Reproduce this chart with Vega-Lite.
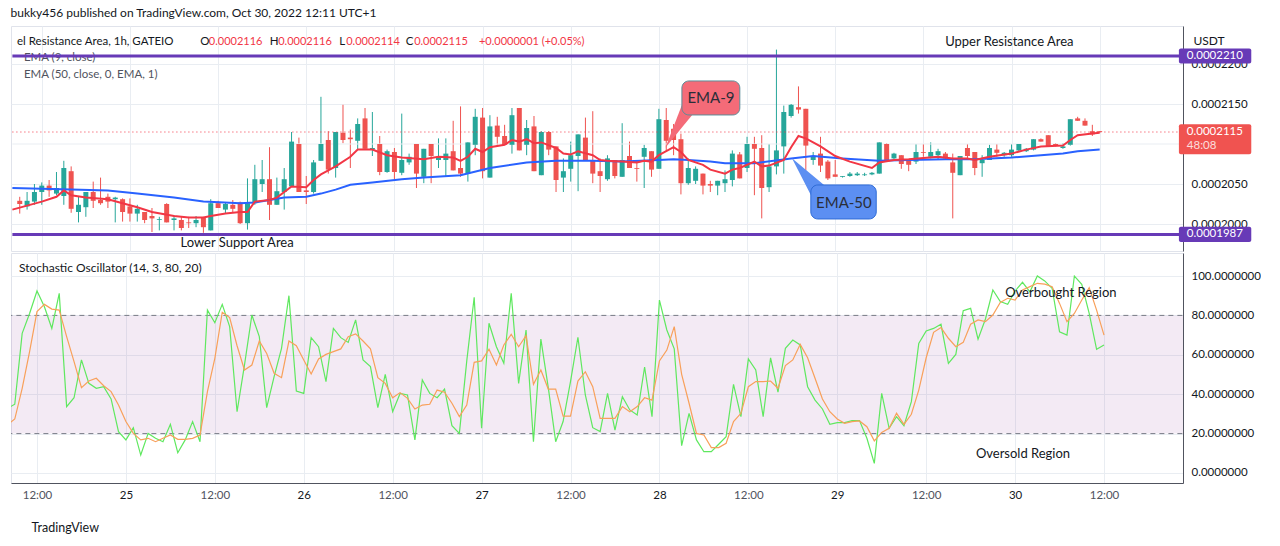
{
  "$schema": "https://vega.github.io/schema/vega-lite/v6.json",
  "background": "#ffffff",
  "padding": {"left": 10, "top": 6, "right": 0, "bottom": 0},
  "title": {"text": "bukky456 published on TradingView.com, Oct 30, 2022 12:11 UTC+1", "anchor": "start", "fontSize": 12, "fontWeight": "normal", "color": "#131722", "font": "Lato", "offset": 6},
  "config": {
    "font": "Lato",
    "view": {"stroke": "#e0e3eb"},
    "axis": {"gridColor": "#e9edf2", "ticks": false, "labelFont": "Lato", "labelFontSize": 11.5, "labelColor": "#131722", "domainColor": "#50535e"},
    "text": {"font": "Lato"}
  },
  "datasets": {
    "bars": [
      {"time":"2022-10-24 08:00","k":32.8,"d":24.4},
      {"time":"2022-10-24 09:00","open":0.0002029,"high":0.0002034,"low":0.0002013,"close":0.0002025,"k":34.9,"d":27.4},
      {"time":"2022-10-24 10:00","open":0.0002022,"high":0.0002040,"low":0.0002018,"close":0.0002029,"k":70.9,"d":43.0},
      {"time":"2022-10-24 11:00","open":0.0002028,"high":0.0002050,"low":0.0002024,"close":0.0002040,"k":81.0,"d":61.6},
      {"time":"2022-10-24 12:00","open":0.0002040,"high":0.0002052,"low":0.0002024,"close":0.0002048,"k":92.4,"d":81.9},
      {"time":"2022-10-24 13:00","open":0.0002048,"high":0.0002055,"low":0.0002034,"close":0.0002042,"k":84.4,"d":85.6},
      {"time":"2022-10-24 14:00","open":0.0002038,"high":0.0002065,"low":0.0002036,"close":0.0002045,"k":73.4,"d":83.2},
      {"time":"2022-10-24 15:00","open":0.0002035,"high":0.0002079,"low":0.0002024,"close":0.0002070,"k":91.2,"d":82.7},
      {"time":"2022-10-24 16:00","open":0.0002066,"high":0.0002072,"low":0.0002014,"close":0.0002019,"k":33.7,"d":69.2},
      {"time":"2022-10-24 17:00","open":0.0002015,"high":0.0002034,"low":0.0002002,"close":0.0002024,"k":38.2,"d":56.5},
      {"time":"2022-10-24 18:00","open":0.0002021,"high":0.0002040,"low":0.0002009,"close":0.0002040,"k":57.4,"d":43.3},
      {"time":"2022-10-24 19:00","open":0.0002040,"high":0.0002053,"low":0.0002020,"close":0.0002029,"k":45.5,"d":46.7},
      {"time":"2022-10-24 20:00","open":0.0002030,"high":0.0002058,"low":0.0002024,"close":0.0002026,"k":43.0,"d":48.1},
      {"time":"2022-10-24 21:00","open":0.0002034,"high":0.0002038,"low":0.0002020,"close":0.0002028,"k":43.8,"d":44.3},
      {"time":"2022-10-24 22:00","open":0.0002031,"high":0.0002034,"low":0.0002002,"close":0.0002033,"k":37.6,"d":41.3},
      {"time":"2022-10-24 23:00","open":0.0002031,"high":0.0002032,"low":0.0002003,"close":0.0002015,"k":21.0,"d":34.5},
      {"time":"2022-10-25 00:00","open":0.0002022,"high":0.0002032,"low":0.0002003,"close":0.0002013,"k":16.8,"d":26.1},
      {"time":"2022-10-25 01:00","open":0.0002013,"high":0.0002024,"low":0.0002003,"close":0.0002019,"k":23.0,"d":20.1},
      {"time":"2022-10-25 02:00","open":0.0002015,"high":0.0002015,"low":0.0002001,"close":0.0002005,"k":9.1,"d":16.8},
      {"time":"2022-10-25 03:00","open":0.0002010,"high":0.0002020,"low":0.0001990,"close":0.0002007,"k":20.1,"d":17.6},
      {"time":"2022-10-25 04:00","open":0.0002005,"high":0.0002009,"low":0.0001992,"close":0.0002006,"k":17.6,"d":15.9},
      {"time":"2022-10-25 05:00","open":0.0002025,"high":0.0002026,"low":0.0002002,"close":0.0002002,"k":15.9,"d":17.6},
      {"time":"2022-10-25 06:00","open":0.0002005,"high":0.0002011,"low":0.0001992,"close":0.0002007,"k":24.7,"d":19.3},
      {"time":"2022-10-25 07:00","open":0.0002005,"high":0.0002009,"low":0.0001992,"close":0.0001995,"k":10.3,"d":17.1},
      {"time":"2022-10-25 08:00","open":0.0002002,"high":0.0002009,"low":0.0001995,"close":0.0002001,"k":16.8,"d":17.1},
      {"time":"2022-10-25 09:00","open":0.0002001,"high":0.0002010,"low":0.0001996,"close":0.0002005,"k":26.1,"d":17.6},
      {"time":"2022-10-25 10:00","open":0.0002008,"high":0.0002009,"low":0.0001989,"close":0.0001996,"k":15.9,"d":19.3},
      {"time":"2022-10-25 11:00","open":0.0001992,"high":0.0002031,"low":0.0001992,"close":0.0002026,"k":82.7,"d":41.3},
      {"time":"2022-10-25 12:00","open":0.0002026,"high":0.0002029,"low":0.0002020,"close":0.0002020,"k":76.3,"d":58.2},
      {"time":"2022-10-25 13:00","open":0.0002018,"high":0.0002027,"low":0.0002013,"close":0.0002025,"k":85.6,"d":81.6},
      {"time":"2022-10-25 14:00","open":0.0002024,"high":0.0002030,"low":0.0002015,"close":0.0002019,"k":74.3,"d":78.9},
      {"time":"2022-10-25 15:00","open":0.0002027,"high":0.0002028,"low":0.0002000,"close":0.0002001,"k":31.1,"d":64.6},
      {"time":"2022-10-25 16:00","open":0.0002001,"high":0.0002057,"low":0.0001993,"close":0.0002026,"k":54.8,"d":52.3},
      {"time":"2022-10-25 17:00","open":0.0002026,"high":0.0002074,"low":0.0002024,"close":0.0002056,"k":80.2,"d":54.8},
      {"time":"2022-10-25 18:00","open":0.0002050,"high":0.0002080,"low":0.0002040,"close":0.0002056,"k":69.2,"d":67.0},
      {"time":"2022-10-25 19:00","open":0.0002056,"high":0.0002096,"low":0.0002005,"close":0.0002024,"k":33.2,"d":60.7},
      {"time":"2022-10-25 20:00","open":0.0002024,"high":0.0002058,"low":0.0002024,"close":0.0002041,"k":48.9,"d":50.6},
      {"time":"2022-10-25 21:00","open":0.0002040,"high":0.0002070,"low":0.0002018,"close":0.0002056,"k":63.3,"d":48.4},
      {"time":"2022-10-25 22:00","open":0.0002047,"high":0.0002115,"low":0.0002047,"close":0.0002103,"k":90.0,"d":67.0},
      {"time":"2022-10-25 23:00","open":0.0002100,"high":0.0002108,"low":0.0002040,"close":0.0002040,"k":41.6,"d":64.6},
      {"time":"2022-10-26 00:00","open":0.0002042,"high":0.0002060,"low":0.0002025,"close":0.0002040,"k":40.4,"d":57.4},
      {"time":"2022-10-26 01:00","open":0.0002040,"high":0.0002080,"low":0.0002038,"close":0.0002077,"k":68.7,"d":50.3},
      {"time":"2022-10-26 02:00","open":0.0002079,"high":0.0002159,"low":0.0002079,"close":0.0002100,"k":64.1,"d":57.9},
      {"time":"2022-10-26 03:00","open":0.0002105,"high":0.0002116,"low":0.0002063,"close":0.0002068,"k":46.4,"d":60.2},
      {"time":"2022-10-26 04:00","open":0.0002070,"high":0.0002115,"low":0.0002058,"close":0.0002115,"k":73.4,"d":61.6},
      {"time":"2022-10-26 05:00","open":0.0002114,"high":0.0002149,"low":0.0002101,"close":0.0002105,"k":68.7,"d":63.0},
      {"time":"2022-10-26 06:00","open":0.0002108,"high":0.0002118,"low":0.0002070,"close":0.0002106,"k":66.3,"d":69.2},
      {"time":"2022-10-26 07:00","open":0.0002104,"high":0.0002132,"low":0.0002093,"close":0.0002125,"k":77.7,"d":70.6},
      {"time":"2022-10-26 08:00","open":0.0002132,"high":0.0002145,"low":0.0002094,"close":0.0002094,"k":57.4,"d":67.0},
      {"time":"2022-10-26 09:00","open":0.0002093,"high":0.0002140,"low":0.0002085,"close":0.0002095,"k":54.0,"d":63.0},
      {"time":"2022-10-26 10:00","open":0.0002100,"high":0.0002110,"low":0.0002061,"close":0.0002065,"k":33.2,"d":48.4},
      {"time":"2022-10-26 11:00","open":0.0002065,"high":0.0002093,"low":0.0002064,"close":0.0002091,"k":50.1,"d":45.5},
      {"time":"2022-10-26 12:00","open":0.0002090,"high":0.0002095,"low":0.0002056,"close":0.0002065,"k":31.1,"d":38.2},
      {"time":"2022-10-26 13:00","open":0.0002064,"high":0.0002138,"low":0.0002061,"close":0.0002080,"k":40.4,"d":40.8},
      {"time":"2022-10-26 14:00","open":0.0002077,"high":0.0002088,"low":0.0002074,"close":0.0002084,"k":39.6,"d":37.9},
      {"time":"2022-10-26 15:00","open":0.0002100,"high":0.0002100,"low":0.0002045,"close":0.0002063,"k":16.8,"d":32.5},
      {"time":"2022-10-26 16:00","open":0.0002059,"high":0.0002094,"low":0.0002051,"close":0.0002094,"k":47.2,"d":34.5},
      {"time":"2022-10-26 17:00","open":0.0002100,"high":0.0002100,"low":0.0002051,"close":0.0002085,"k":40.4,"d":34.9},
      {"time":"2022-10-26 18:00","open":0.0002080,"high":0.0002107,"low":0.0002070,"close":0.0002084,"k":38.2,"d":42.1},
      {"time":"2022-10-26 19:00","open":0.0002080,"high":0.0002107,"low":0.0002059,"close":0.0002088,"k":42.6,"d":41.0},
      {"time":"2022-10-26 20:00","open":0.0002091,"high":0.0002129,"low":0.0002067,"close":0.0002067,"k":24.0,"d":35.4},
      {"time":"2022-10-26 21:00","open":0.0002070,"high":0.0002147,"low":0.0002059,"close":0.0002063,"k":20.1,"d":28.6},
      {"time":"2022-10-26 22:00","open":0.0002063,"high":0.0002102,"low":0.0002053,"close":0.0002102,"k":56.9,"d":34.5},
      {"time":"2022-10-26 23:00","open":0.0002099,"high":0.0002144,"low":0.0002086,"close":0.0002134,"k":89.2,"d":56.2},
      {"time":"2022-10-27 00:00","open":0.0002133,"high":0.0002145,"low":0.0002057,"close":0.0002066,"k":22.7,"d":56.9},
      {"time":"2022-10-27 01:00","open":0.0002058,"high":0.0002136,"low":0.0002058,"close":0.0002122,"k":76.0,"d":62.8},
      {"time":"2022-10-27 02:00","open":0.0002123,"high":0.0002134,"low":0.0002099,"close":0.0002109,"k":64.1,"d":54.8},
      {"time":"2022-10-27 03:00","open":0.0002110,"high":0.0002124,"low":0.0002099,"close":0.0002099,"k":55.7,"d":65.0},
      {"time":"2022-10-27 04:00","open":0.0002099,"high":0.0002145,"low":0.0002088,"close":0.0002136,"k":91.2,"d":70.4},
      {"time":"2022-10-27 05:00","open":0.0002145,"high":0.0002145,"low":0.0002092,"close":0.0002092,"k":45.5,"d":64.1},
      {"time":"2022-10-27 06:00","open":0.0002099,"high":0.0002130,"low":0.0002086,"close":0.0002120,"k":72.6,"d":69.7},
      {"time":"2022-10-27 07:00","open":0.0002122,"high":0.0002135,"low":0.0002066,"close":0.0002066,"k":15.9,"d":45.0},
      {"time":"2022-10-27 08:00","open":0.0002061,"high":0.0002116,"low":0.0002061,"close":0.0002115,"k":68.0,"d":52.3},
      {"time":"2022-10-27 09:00","open":0.0002115,"high":0.0002116,"low":0.0002086,"close":0.0002093,"k":43.3,"d":42.6},
      {"time":"2022-10-27 10:00","open":0.0002097,"high":0.0002097,"low":0.0002040,"close":0.0002055,"k":15.9,"d":42.6},
      {"time":"2022-10-27 11:00","open":0.0002058,"high":0.0002082,"low":0.0002040,"close":0.0002066,"k":26.1,"d":28.9},
      {"time":"2022-10-27 12:00","open":0.0002069,"high":0.0002103,"low":0.0002053,"close":0.0002086,"k":46.4,"d":28.9},
      {"time":"2022-10-27 13:00","open":0.0002085,"high":0.0002112,"low":0.0002041,"close":0.0002112,"k":68.9,"d":46.7},
      {"time":"2022-10-27 14:00","open":0.0002108,"high":0.0002133,"low":0.0002080,"close":0.0002080,"k":39.6,"d":51.4},
      {"time":"2022-10-27 15:00","open":0.0002080,"high":0.0002141,"low":0.0002051,"close":0.0002063,"k":23.0,"d":43.8},
      {"time":"2022-10-27 16:00","open":0.0002066,"high":0.0002082,"low":0.0002040,"close":0.0002060,"k":21.0,"d":27.7},
      {"time":"2022-10-27 17:00","open":0.0002056,"high":0.0002086,"low":0.0002054,"close":0.0002082,"k":40.4,"d":27.7},
      {"time":"2022-10-27 18:00","open":0.0002080,"high":0.0002080,"low":0.0002057,"close":0.0002060,"k":21.8,"d":27.7},
      {"time":"2022-10-27 19:00","open":0.0002059,"high":0.0002126,"low":0.0002059,"close":0.0002080,"k":38.7,"d":33.7},
      {"time":"2022-10-27 20:00","open":0.0002085,"high":0.0002103,"low":0.0002070,"close":0.0002070,"k":32.0,"d":31.1},
      {"time":"2022-10-27 21:00","open":0.0002070,"high":0.0002080,"low":0.0002053,"close":0.0002069,"k":29.4,"d":33.7},
      {"time":"2022-10-27 22:00","open":0.0002084,"high":0.0002099,"low":0.0002045,"close":0.0002095,"k":53.8,"d":38.2},
      {"time":"2022-10-27 23:00","open":0.0002091,"high":0.0002091,"low":0.0002059,"close":0.0002068,"k":28.6,"d":37.0},
      {"time":"2022-10-28 00:00","open":0.0002069,"high":0.0002144,"low":0.0002069,"close":0.0002131,"k":87.8,"d":56.9},
      {"time":"2022-10-28 01:00","open":0.0002130,"high":0.0002145,"low":0.0002090,"close":0.0002104,"k":72.6,"d":62.4},
      {"time":"2022-10-28 02:00","open":0.0002119,"high":0.0002125,"low":0.0002086,"close":0.0002105,"k":63.0,"d":74.3},
      {"time":"2022-10-28 03:00","open":0.0002106,"high":0.0002113,"low":0.0002037,"close":0.0002051,"k":13.9,"d":50.1},
      {"time":"2022-10-28 04:00","open":0.0002051,"high":0.0002082,"low":0.0002049,"close":0.0002070,"k":30.3,"d":35.4},
      {"time":"2022-10-28 05:00","open":0.0002054,"high":0.0002072,"low":0.0002050,"close":0.0002069,"k":16.8,"d":20.1},
      {"time":"2022-10-28 06:00","open":0.0002063,"high":0.0002063,"low":0.0002037,"close":0.0002048,"k":10.8,"d":19.3},
      {"time":"2022-10-28 07:00","open":0.0002050,"high":0.0002054,"low":0.0002040,"close":0.0002048,"k":10.8,"d":12.9},
      {"time":"2022-10-28 08:00","open":0.0002048,"high":0.0002054,"low":0.0002036,"close":0.0002054,"k":14.6,"d":12.9},
      {"time":"2022-10-28 09:00","open":0.0002051,"high":0.0002067,"low":0.0002040,"close":0.0002056,"k":18.4,"d":15.1},
      {"time":"2022-10-28 10:00","open":0.0002055,"high":0.0002092,"low":0.0002047,"close":0.0002088,"k":45.0,"d":26.1},
      {"time":"2022-10-28 11:00","open":0.0002087,"high":0.0002090,"low":0.0002057,"close":0.0002057,"k":28.6,"d":30.3},
      {"time":"2022-10-28 12:00","open":0.0002070,"high":0.0002109,"low":0.0002065,"close":0.0002100,"k":57.9,"d":43.8},
      {"time":"2022-10-28 13:00","open":0.0002100,"high":0.0002109,"low":0.0002036,"close":0.0002094,"k":52.3,"d":46.4},
      {"time":"2022-10-28 14:00","open":0.0002095,"high":0.0002111,"low":0.0002007,"close":0.0002045,"k":28.6,"d":46.4},
      {"time":"2022-10-28 15:00","open":0.0002046,"high":0.0002100,"low":0.0002040,"close":0.0002072,"k":58.5,"d":46.7},
      {"time":"2022-10-28 16:00","open":0.0002072,"high":0.0002218,"low":0.0002062,"close":0.0002092,"k":41.0,"d":43.0},
      {"time":"2022-10-28 17:00","open":0.0002097,"high":0.0002148,"low":0.0002063,"close":0.0002140,"k":63.3,"d":54.5},
      {"time":"2022-10-28 18:00","open":0.0002135,"high":0.0002150,"low":0.0002133,"close":0.0002149,"k":67.5,"d":57.4},
      {"time":"2022-10-28 19:00","open":0.0002146,"high":0.0002172,"low":0.0002138,"close":0.0002143,"k":65.0,"d":65.3},
      {"time":"2022-10-28 20:00","open":0.0002144,"high":0.0002144,"low":0.0002067,"close":0.0002098,"k":43.8,"d":58.5},
      {"time":"2022-10-28 21:00","open":0.0002080,"high":0.0002090,"low":0.0002074,"close":0.0002084,"k":37.0,"d":48.1},
      {"time":"2022-10-28 22:00","open":0.0002088,"high":0.0002109,"low":0.0002065,"close":0.0002073,"k":32.5,"d":37.6},
      {"time":"2022-10-28 23:00","open":0.0002078,"high":0.0002080,"low":0.0002055,"close":0.0002057,"k":24.7,"d":31.1},
      {"time":"2022-10-29 00:00","open":0.0002062,"high":0.0002080,"low":0.0002059,"close":0.0002059,"k":25.6,"d":27.4},
      {"time":"2022-10-29 01:00","open":0.0002059,"high":0.0002060,"low":0.0002058,"close":0.0002060,"k":25.6,"d":25.2},
      {"time":"2022-10-29 02:00","open":0.0002060,"high":0.0002065,"low":0.0002059,"close":0.0002063,"k":26.6,"d":26.1},
      {"time":"2022-10-29 03:00","open":0.0002061,"high":0.0002065,"low":0.0002060,"close":0.0002063,"k":26.6,"d":26.4},
      {"time":"2022-10-29 04:00","open":0.0002061,"high":0.0002064,"low":0.0002060,"close":0.0002062,"k":17.6,"d":23.5},
      {"time":"2022-10-29 05:00","open":0.0002062,"high":0.0002065,"low":0.0002061,"close":0.0002064,"k":4.9,"d":16.3},
      {"time":"2022-10-29 06:00","open":0.0002063,"high":0.0002102,"low":0.0002063,"close":0.0002102,"k":40.4,"d":20.6},
      {"time":"2022-10-29 07:00","open":0.0002100,"high":0.0002101,"low":0.0002080,"close":0.0002080,"k":22.7,"d":22.7},
      {"time":"2022-10-29 08:00","open":0.0002082,"high":0.0002089,"low":0.0002081,"close":0.0002088,"k":28.6,"d":30.3},
      {"time":"2022-10-29 09:00","open":0.0002086,"high":0.0002086,"low":0.0002069,"close":0.0002075,"k":24.0,"d":24.7},
      {"time":"2022-10-29 10:00","open":0.0002080,"high":0.0002080,"low":0.0002066,"close":0.0002074,"k":36.2,"d":29.8},
      {"time":"2022-10-29 11:00","open":0.0002078,"high":0.0002100,"low":0.0002075,"close":0.0002090,"k":65.8,"d":42.1},
      {"time":"2022-10-29 12:00","open":0.0002090,"high":0.0002100,"low":0.0002084,"close":0.0002089,"k":72.1,"d":58.5},
      {"time":"2022-10-29 13:00","open":0.0002084,"high":0.0002102,"low":0.0002082,"close":0.0002090,"k":73.4,"d":71.4},
      {"time":"2022-10-29 14:00","open":0.0002086,"high":0.0002094,"low":0.0002080,"close":0.0002091,"k":75.5,"d":73.8},
      {"time":"2022-10-29 15:00","open":0.0002088,"high":0.0002090,"low":0.0002081,"close":0.0002082,"k":55.7,"d":68.4},
      {"time":"2022-10-29 16:00","open":0.0002077,"high":0.0002088,"low":0.0002007,"close":0.0002064,"k":60.2,"d":64.1},
      {"time":"2022-10-29 17:00","open":0.0002061,"high":0.0002085,"low":0.0002061,"close":0.0002085,"k":82.4,"d":66.3},
      {"time":"2022-10-29 18:00","open":0.0002095,"high":0.0002100,"low":0.0002080,"close":0.0002085,"k":83.6,"d":75.5},
      {"time":"2022-10-29 19:00","open":0.0002090,"high":0.0002090,"low":0.0002061,"close":0.0002070,"k":67.9,"d":77.7},
      {"time":"2022-10-29 20:00","open":0.0002076,"high":0.0002086,"low":0.0002059,"close":0.0002080,"k":78.2,"d":76.8},
      {"time":"2022-10-29 21:00","open":0.0002080,"high":0.0002099,"low":0.0002080,"close":0.0002095,"k":92.9,"d":80.2},
      {"time":"2022-10-29 22:00","open":0.0002093,"high":0.0002100,"low":0.0002084,"close":0.0002089,"k":87.0,"d":86.6},
      {"time":"2022-10-29 23:00","open":0.0002086,"high":0.0002090,"low":0.0002084,"close":0.0002089,"k":85.6,"d":88.7},
      {"time":"2022-10-30 00:00","open":0.0002086,"high":0.0002100,"low":0.0002084,"close":0.0002093,"k":92.4,"d":87.8},
      {"time":"2022-10-30 01:00","open":0.0002092,"high":0.0002100,"low":0.0002091,"close":0.0002100,"k":96.8,"d":92.9},
      {"time":"2022-10-30 02:00","open":0.0002091,"high":0.0002095,"low":0.0002090,"close":0.0002094,"k":92.0,"d":94.6},
      {"time":"2022-10-30 03:00","open":0.0002093,"high":0.0002106,"low":0.0002092,"close":0.0002106,"k":100.0,"d":96.3},
      {"time":"2022-10-30 04:00","open":0.0002106,"high":0.0002107,"low":0.0002103,"close":0.0002103,"k":97.5,"d":95.9},
      {"time":"2022-10-30 05:00","open":0.0002111,"high":0.0002111,"low":0.0002097,"close":0.0002097,"k":93.7,"d":94.6},
      {"time":"2022-10-30 06:00","open":0.0002100,"high":0.0002101,"low":0.0002097,"close":0.0002098,"k":71.7,"d":86.1},
      {"time":"2022-10-30 07:00","open":0.0002095,"high":0.0002101,"low":0.0002094,"close":0.0002097,"k":70.0,"d":76.8},
      {"time":"2022-10-30 08:00","open":0.0002099,"high":0.0002131,"low":0.0002098,"close":0.0002131,"k":100.0,"d":81.0},
      {"time":"2022-10-30 09:00","open":0.0002132,"high":0.0002134,"low":0.0002129,"close":0.0002129,"k":95.8,"d":87.8},
      {"time":"2022-10-30 10:00","open":0.0002129,"high":0.0002132,"low":0.0002123,"close":0.0002123,"k":81.0,"d":94.1},
      {"time":"2022-10-30 11:00","open":0.0002116,"high":0.0002124,"low":0.0002110,"close":0.0002112,"k":62.8,"d":82.7},
      {"time":"2022-10-30 12:00","open":0.0002116,"high":0.0002116,"low":0.0002114,"close":0.0002115,"k":65.0,"d":70.0}
    ]
  },
  "data": {"name": "bars", "format": {"parse": {"time": "utc:'%Y-%m-%d %H:%M'"}}},
  "spacing": 0,
  "vconcat": [
    {
      "width": 1172,
      "height": 225,
      "encoding": {
        "x": {
          "field": "time", "type": "temporal",
          "scale": {"type": "utc", "domain": [
            {"year": 2022, "month": "oct", "date": 24, "hours": 8, "minutes": 29, "seconds": 28, "utc": true},
            {"year": 2022, "month": "oct", "date": 30, "hours": 22, "minutes": 39, "seconds": 36, "utc": true}]},
          "axis": {
            "values": [
              {"year": 2022, "month": "oct", "date": 24, "hours": 12, "utc": true},
              {"year": 2022, "month": "oct", "date": 25, "hours": 0, "utc": true},
              {"year": 2022, "month": "oct", "date": 25, "hours": 12, "utc": true},
              {"year": 2022, "month": "oct", "date": 26, "hours": 0, "utc": true},
              {"year": 2022, "month": "oct", "date": 26, "hours": 12, "utc": true},
              {"year": 2022, "month": "oct", "date": 27, "hours": 0, "utc": true},
              {"year": 2022, "month": "oct", "date": 27, "hours": 12, "utc": true},
              {"year": 2022, "month": "oct", "date": 28, "hours": 0, "utc": true},
              {"year": 2022, "month": "oct", "date": 28, "hours": 12, "utc": true},
              {"year": 2022, "month": "oct", "date": 29, "hours": 0, "utc": true},
              {"year": 2022, "month": "oct", "date": 29, "hours": 12, "utc": true},
              {"year": 2022, "month": "oct", "date": 30, "hours": 0, "utc": true},
              {"year": 2022, "month": "oct", "date": 30, "hours": 12, "utc": true}],
            "labels": false, "domain": false, "grid": true, "title": null
          }
        }
      },
      "layer": [
        {
          "mark": {"type": "rule", "clip": true, "strokeWidth": 1},
          "encoding": {
            "y": {
              "field": "low", "type": "quantitative",
              "scale": {"domain": [0.000196625, 0.00022475], "nice": false, "zero": false},
              "axis": {"orient": "right", "values": [0.0002, 0.000205, 0.000215, 0.00022], "format": ".7f", "grid": true, "labelPadding": 8,
                "title": "USDT", "titleAngle": 0, "titleAlign": "left", "titleBaseline": "middle", "titleX": 10, "titleY": 14,
                "titleFontWeight": "normal", "titleFontSize": 12, "titleColor": "#131722", "titleFont": "Lato"}
            },
            "y2": {"field": "high"},
            "color": {"condition": {"test": "datum.close >= datum.open", "value": "#26a69a"}, "value": "#ef5350"}
          }
        },
        {
          "data": {"values": [{"start": "2022-10-24 08:00", "end": "2022-10-31 00:00", "price": 0.00021}],
            "format": {"parse": {"start": "utc:'%Y-%m-%d %H:%M'", "end": "utc:'%Y-%m-%d %H:%M'"}}},
          "mark": {"type": "rule", "clip": true, "color": "#e9edf2", "strokeWidth": 1},
          "encoding": {
            "x": {"field": "start", "type": "temporal"}, "x2": {"field": "end"},
            "y": {"field": "price", "type": "quantitative"}
          }
        },
        {
          "mark": {"type": "bar", "clip": true, "width": 5},
          "encoding": {
            "y": {"field": "open", "type": "quantitative"},
            "y2": {"field": "close"},
            "color": {"condition": {"test": "datum.close >= datum.open", "value": "#26a69a"}, "value": "#ef5350"}
          }
        },
        {
          "data": {"values": [
            {"time":"2022-10-24 08:00","value":0.0002045},{"time":"2022-10-24 16:00","value":0.0002043},{"time":"2022-10-24 21:00","value":0.0002042},
            {"time":"2022-10-25 01:00","value":0.0002038},{"time":"2022-10-25 06:00","value":0.0002033},{"time":"2022-10-25 10:00","value":0.0002028},
            {"time":"2022-10-25 15:00","value":0.0002026},{"time":"2022-10-25 17:00","value":0.0002027},{"time":"2022-10-25 19:00","value":0.0002030},
            {"time":"2022-10-25 21:00","value":0.0002033},{"time":"2022-10-26 00:00","value":0.0002034},{"time":"2022-10-26 02:00","value":0.0002038},
            {"time":"2022-10-26 04:00","value":0.0002043},{"time":"2022-10-26 06:00","value":0.0002049},{"time":"2022-10-26 09:00","value":0.0002052},
            {"time":"2022-10-26 13:00","value":0.0002056},{"time":"2022-10-26 16:00","value":0.0002058},{"time":"2022-10-26 21:00","value":0.0002061},
            {"time":"2022-10-27 01:00","value":0.0002070},{"time":"2022-10-27 06:00","value":0.0002077},{"time":"2022-10-27 10:00","value":0.0002079},
            {"time":"2022-10-27 15:00","value":0.0002079},{"time":"2022-10-27 19:00","value":0.0002078},{"time":"2022-10-28 00:00","value":0.0002080},
            {"time":"2022-10-28 02:00","value":0.0002081},{"time":"2022-10-28 04:00","value":0.0002080},{"time":"2022-10-28 07:00","value":0.0002078},
            {"time":"2022-10-28 09:00","value":0.0002076},{"time":"2022-10-28 13:00","value":0.0002076},{"time":"2022-10-28 18:00","value":0.0002082},
            {"time":"2022-10-28 21:00","value":0.0002085},{"time":"2022-10-29 01:00","value":0.0002082},{"time":"2022-10-29 06:00","value":0.0002079},
            {"time":"2022-10-29 10:00","value":0.0002080},{"time":"2022-10-29 15:00","value":0.0002081},{"time":"2022-10-29 19:00","value":0.0002081},
            {"time":"2022-10-30 00:00","value":0.0002083},{"time":"2022-10-30 04:00","value":0.0002086},{"time":"2022-10-30 07:00","value":0.0002088},
            {"time":"2022-10-30 09:00","value":0.0002091},{"time":"2022-10-30 12:00","value":0.0002093}],
            "format": {"parse": {"time": "utc:'%Y-%m-%d %H:%M'"}}},
          "mark": {"type": "line", "clip": true, "color": "#2962ff", "strokeWidth": 2},
          "encoding": {"y": {"field": "value", "type": "quantitative"}}
        },
        {
          "data": {"values": [
            {"time":"2022-10-24 08:00","value":0.0002018},{"time":"2022-10-24 12:00","value":0.0002028},{"time":"2022-10-24 14:00","value":0.0002034},
            {"time":"2022-10-24 15:00","value":0.0002042},{"time":"2022-10-24 16:00","value":0.0002036},{"time":"2022-10-24 18:00","value":0.0002033},
            {"time":"2022-10-24 21:00","value":0.0002031},{"time":"2022-10-24 23:00","value":0.0002026},{"time":"2022-10-25 01:00","value":0.0002021},
            {"time":"2022-10-25 03:00","value":0.0002015},{"time":"2022-10-25 06:00","value":0.0002010},{"time":"2022-10-25 08:00","value":0.0002008},
            {"time":"2022-10-25 10:00","value":0.0002008},{"time":"2022-10-25 11:00","value":0.0002010},{"time":"2022-10-25 13:00","value":0.0002013},
            {"time":"2022-10-25 15:00","value":0.0002015},{"time":"2022-10-25 16:00","value":0.0002015},{"time":"2022-10-25 17:00","value":0.0002028},
            {"time":"2022-10-25 19:00","value":0.0002030},{"time":"2022-10-25 20:00","value":0.0002033},{"time":"2022-10-25 22:00","value":0.0002047},
            {"time":"2022-10-26 00:00","value":0.0002046},{"time":"2022-10-26 01:00","value":0.0002055},{"time":"2022-10-26 02:00","value":0.0002062},
            {"time":"2022-10-26 04:00","value":0.0002072},{"time":"2022-10-26 06:00","value":0.0002084},{"time":"2022-10-26 07:00","value":0.0002093},
            {"time":"2022-10-26 09:00","value":0.0002093},{"time":"2022-10-26 11:00","value":0.0002086},{"time":"2022-10-26 13:00","value":0.0002083},
            {"time":"2022-10-26 16:00","value":0.0002081},{"time":"2022-10-26 18:00","value":0.0002084},{"time":"2022-10-26 20:00","value":0.0002083},
            {"time":"2022-10-26 21:00","value":0.0002079},{"time":"2022-10-26 22:00","value":0.0002084},{"time":"2022-10-26 23:00","value":0.0002094},
            {"time":"2022-10-27 00:00","value":0.0002090},{"time":"2022-10-27 01:00","value":0.0002096},{"time":"2022-10-27 03:00","value":0.0002099},
            {"time":"2022-10-27 04:00","value":0.0002105},{"time":"2022-10-27 05:00","value":0.0002103},{"time":"2022-10-27 06:00","value":0.0002106},
            {"time":"2022-10-27 07:00","value":0.0002101},{"time":"2022-10-27 08:00","value":0.0002102},{"time":"2022-10-27 10:00","value":0.0002095},
            {"time":"2022-10-27 11:00","value":0.0002088},{"time":"2022-10-27 12:00","value":0.0002087},{"time":"2022-10-27 13:00","value":0.0002091},
            {"time":"2022-10-27 15:00","value":0.0002086},{"time":"2022-10-27 16:00","value":0.0002080},{"time":"2022-10-27 17:00","value":0.0002079},
            {"time":"2022-10-27 19:00","value":0.0002078},{"time":"2022-10-27 21:00","value":0.0002077},{"time":"2022-10-27 22:00","value":0.0002079},
            {"time":"2022-10-27 23:00","value":0.0002078},{"time":"2022-10-28 00:00","value":0.0002086},{"time":"2022-10-28 02:00","value":0.0002096},
            {"time":"2022-10-28 03:00","value":0.0002090},{"time":"2022-10-28 04:00","value":0.0002080},{"time":"2022-10-28 06:00","value":0.0002074},
            {"time":"2022-10-28 07:00","value":0.0002068},{"time":"2022-10-28 09:00","value":0.0002063},{"time":"2022-10-28 10:00","value":0.0002068},
            {"time":"2022-10-28 11:00","value":0.0002070},{"time":"2022-10-28 13:00","value":0.0002078},{"time":"2022-10-28 14:00","value":0.0002072},
            {"time":"2022-10-28 15:00","value":0.0002073},{"time":"2022-10-28 17:00","value":0.0002080},{"time":"2022-10-28 18:00","value":0.0002096},
            {"time":"2022-10-28 19:00","value":0.0002110},{"time":"2022-10-28 20:00","value":0.0002107},{"time":"2022-10-28 22:00","value":0.0002097},
            {"time":"2022-10-29 00:00","value":0.0002085},{"time":"2022-10-29 02:00","value":0.0002078},{"time":"2022-10-29 05:00","value":0.0002070},
            {"time":"2022-10-29 06:00","value":0.0002077},{"time":"2022-10-29 08:00","value":0.0002080},{"time":"2022-10-29 10:00","value":0.0002081},
            {"time":"2022-10-29 14:00","value":0.0002084},{"time":"2022-10-29 16:00","value":0.0002082},{"time":"2022-10-29 18:00","value":0.0002082},
            {"time":"2022-10-29 19:00","value":0.0002080},{"time":"2022-10-29 21:00","value":0.0002084},{"time":"2022-10-30 00:00","value":0.0002088},
            {"time":"2022-10-30 02:00","value":0.0002093},{"time":"2022-10-30 04:00","value":0.0002097},{"time":"2022-10-30 07:00","value":0.0002098},
            {"time":"2022-10-30 08:00","value":0.0002105},{"time":"2022-10-30 09:00","value":0.0002111},{"time":"2022-10-30 11:00","value":0.0002113},
            {"time":"2022-10-30 12:00","value":0.0002114}],
            "format": {"parse": {"time": "utc:'%Y-%m-%d %H:%M'"}}},
          "mark": {"type": "line", "clip": true, "color": "#f23645", "strokeWidth": 2},
          "encoding": {"y": {"field": "value", "type": "quantitative"}}
        },
        {
          "data": {"values": [{"start": "2022-10-24 08:00", "end": "2022-10-31 00:00", "price": 0.0002115}],
            "format": {"parse": {"start": "utc:'%Y-%m-%d %H:%M'", "end": "utc:'%Y-%m-%d %H:%M'"}}},
          "mark": {"type": "rule", "clip": true, "color": "#f23645", "strokeDash": [1, 3], "strokeWidth": 1},
          "encoding": {
            "x": {"field": "start", "type": "temporal"}, "x2": {"field": "end"},
            "y": {"field": "price", "type": "quantitative"}
          }
        },
        {
          "data": {"values": [
            {"time": "2022-10-25 10:44", "label": "0.0002116"},
            {"time": "2022-10-25 20:11", "label": "0.0002116"},
            {"time": "2022-10-26 05:26", "label": "0.0002114"},
            {"time": "2022-10-26 14:41", "label": "0.0002115"},
            {"time": "2022-10-26 23:30", "label": "+0.0000001 (+0.05%)"}],
            "format": {"parse": {"time": "utc:'%Y-%m-%d %H:%M'"}}},
          "mark": {"type": "text", "align": "left", "fontSize": 11, "color": "#f23645"},
          "encoding": {"y": {"datum": 0.00022275, "type": "quantitative"}, "text": {"field": "label"}}
        },
        {
          "data": {"values": [
            {"time": "2022-10-24 08:38", "label": "el Resistance Area, 1h, GATEIO"},
            {"time": "2022-10-25 09:35", "label": "O"},
            {"time": "2022-10-25 19:02", "label": "H"},
            {"time": "2022-10-26 04:29", "label": "L"},
            {"time": "2022-10-26 13:32", "label": "C"}],
            "format": {"parse": {"time": "utc:'%Y-%m-%d %H:%M'"}}},
          "mark": {"type": "text", "align": "left", "fontSize": 11.5, "color": "#131722"},
          "encoding": {"y": {"datum": 0.00022275, "type": "quantitative"}, "text": {"field": "label"}}
        },
        {
          "data": {"values": [
            {"time": "2022-10-24 09:34", "price": 0.00022075, "label": "EMA (9, close)"},
            {"time": "2022-10-24 09:34", "price": 0.00021863, "label": "EMA (50, close, 0, EMA, 1)"}],
            "format": {"parse": {"time": "utc:'%Y-%m-%d %H:%M'"}}},
          "mark": {"type": "text", "align": "left", "fontSize": 11.5, "color": "#50535e"},
          "encoding": {"y": {"field": "price", "type": "quantitative"}, "text": {"field": "label"}}
        },
        {
          "data": {"values": [
            {"time": "2022-10-29 23:42", "price": 0.00022275, "label": "Upper Resistance Area"},
            {"time": "2022-10-25 14:35", "price": 0.00019763, "label": "Lower Support Area"}],
            "format": {"parse": {"time": "utc:'%Y-%m-%d %H:%M'"}}},
          "mark": {"type": "text", "align": "center", "fontSize": 13, "color": "#131722"},
          "encoding": {"y": {"field": "price", "type": "quantitative"}, "text": {"field": "label"}}
        },
        {
          "data": {"values": [
            {"start": "2022-10-24 08:00", "end": "2022-10-31 00:00", "price": 0.000221},
            {"start": "2022-10-24 08:00", "end": "2022-10-31 00:00", "price": 0.0001987}],
            "format": {"parse": {"start": "utc:'%Y-%m-%d %H:%M'", "end": "utc:'%Y-%m-%d %H:%M'"}}},
          "mark": {"type": "rule", "clip": true, "color": "#673ab7", "strokeWidth": 3},
          "encoding": {
            "x": {"field": "start", "type": "temporal"}, "x2": {"field": "end"},
            "y": {"field": "price", "type": "quantitative"}
          }
        },
        {
          "data": {"values": [
            {"time": "2022-10-28 00:53", "top": 0.00020954, "bottom": 0.00020954},
            {"time": "2022-10-28 03:08", "top": 0.00021488, "bottom": 0.00021206},
            {"time": "2022-10-28 04:32", "top": 0.00021363, "bottom": 0.00021363}],
            "format": {"parse": {"time": "utc:'%Y-%m-%d %H:%M'"}}},
          "mark": {"type": "area", "color": "#f46b78", "opacity": 1},
          "encoding": {"y": {"field": "top", "type": "quantitative"}, "y2": {"field": "bottom"}}
        },
        {
          "data": {"values": [
            {"start": "2022-10-28 03:08", "end": "2022-10-28 11:01", "top": 0.00021788, "bottom": 0.00021363}],
            "format": {"parse": {"start": "utc:'%Y-%m-%d %H:%M'", "end": "utc:'%Y-%m-%d %H:%M'"}}},
          "mark": {"type": "rect", "color": "#f46b78", "stroke": "#5a8d99", "strokeWidth": 1, "cornerRadius": 7},
          "encoding": {
            "x": {"field": "start", "type": "temporal"}, "x2": {"field": "end"},
            "y": {"field": "top", "type": "quantitative"}, "y2": {"field": "bottom"}
          }
        },
        {
          "data": {"values": [
            {"time": "2022-10-28 18:07", "top": 0.00020821, "bottom": 0.00020821},
            {"time": "2022-10-28 20:41", "top": 0.00020625, "bottom": 0.00020363},
            {"time": "2022-10-28 22:29", "top": 0.00020488, "bottom": 0.00020488}],
            "format": {"parse": {"time": "utc:'%Y-%m-%d %H:%M'"}}},
          "mark": {"type": "area", "color": "#5c8ff2", "opacity": 1},
          "encoding": {"y": {"field": "top", "type": "quantitative"}, "y2": {"field": "bottom"}}
        },
        {
          "data": {"values": [
            {"start": "2022-10-28 20:41", "end": "2022-10-29 05:35", "top": 0.00020488, "bottom": 0.00020063}],
            "format": {"parse": {"start": "utc:'%Y-%m-%d %H:%M'", "end": "utc:'%Y-%m-%d %H:%M'"}}},
          "mark": {"type": "rect", "color": "#5c8ff2", "stroke": "#2e6bd6", "strokeWidth": 1, "cornerRadius": 7},
          "encoding": {
            "x": {"field": "start", "type": "temporal"}, "x2": {"field": "end"},
            "y": {"field": "top", "type": "quantitative"}, "y2": {"field": "bottom"}
          }
        },
        {
          "data": {"values": [
            {"time": "2022-10-28 07:05", "price": 0.00021575, "label": "EMA-9"},
            {"time": "2022-10-29 01:11", "price": 0.00020263, "label": "EMA-50"}],
            "format": {"parse": {"time": "utc:'%Y-%m-%d %H:%M'"}}},
          "mark": {"type": "text", "align": "center", "fontSize": 15, "color": "#2a2e39"},
          "encoding": {"y": {"field": "price", "type": "quantitative"}, "text": {"field": "label"}}
        },
        {
          "data": {"values": [
            {"start": "2022-10-30 22:47", "end": "2022-10-31 08:38", "top": 0.00022195, "bottom": 0.00022005},
            {"start": "2022-10-30 22:47", "end": "2022-10-31 08:38", "top": 0.00019965, "bottom": 0.00019775}],
            "format": {"parse": {"start": "utc:'%Y-%m-%d %H:%M'", "end": "utc:'%Y-%m-%d %H:%M'"}}},
          "mark": {"type": "rect", "color": "#673ab7", "cornerRadius": 2},
          "encoding": {
            "x": {"field": "start", "type": "temporal"}, "x2": {"field": "end"},
            "y": {"field": "top", "type": "quantitative"}, "y2": {"field": "bottom"}
          }
        },
        {
          "data": {"values": [
            {"start": "2022-10-30 22:47", "end": "2022-10-31 08:38", "top": 0.00021246, "bottom": 0.00020871}],
            "format": {"parse": {"start": "utc:'%Y-%m-%d %H:%M'", "end": "utc:'%Y-%m-%d %H:%M'"}}},
          "mark": {"type": "rect", "color": "#f05350", "cornerRadius": 2},
          "encoding": {
            "x": {"field": "start", "type": "temporal"}, "x2": {"field": "end"},
            "y": {"field": "top", "type": "quantitative"}, "y2": {"field": "bottom"}
          }
        },
        {
          "data": {"values": [
            {"time": "2022-10-30 23:52", "price": 0.000221, "label": "0.0002210"},
            {"time": "2022-10-30 23:52", "price": 0.0001987, "label": "0.0001987"},
            {"time": "2022-10-30 23:52", "price": 0.0002115, "label": "0.0002115"}],
            "format": {"parse": {"time": "utc:'%Y-%m-%d %H:%M'"}}},
          "mark": {"type": "text", "align": "left", "fontSize": 11.5, "color": "#ffffff"},
          "encoding": {"y": {"field": "price", "type": "quantitative"}, "text": {"field": "label"}}
        },
        {
          "data": {"values": [{"time": "2022-10-30 23:52", "price": 0.00020975, "label": "48:08"}],
            "format": {"parse": {"time": "utc:'%Y-%m-%d %H:%M'"}}},
          "mark": {"type": "text", "align": "left", "fontSize": 11.5, "color": "#ffffff", "opacity": 0.8},
          "encoding": {"y": {"field": "price", "type": "quantitative"}, "text": {"field": "label"}}
        }
      ]
    },
    {
      "width": 1172,
      "height": 230,
      "encoding": {
        "x": {
          "field": "time", "type": "temporal",
          "scale": {"type": "utc", "domain": [
            {"year": 2022, "month": "oct", "date": 24, "hours": 8, "minutes": 29, "seconds": 28, "utc": true},
            {"year": 2022, "month": "oct", "date": 30, "hours": 22, "minutes": 39, "seconds": 36, "utc": true}]},
          "axis": {
            "values": [
              {"year": 2022, "month": "oct", "date": 24, "hours": 12, "utc": true},
              {"year": 2022, "month": "oct", "date": 25, "hours": 0, "utc": true},
              {"year": 2022, "month": "oct", "date": 25, "hours": 12, "utc": true},
              {"year": 2022, "month": "oct", "date": 26, "hours": 0, "utc": true},
              {"year": 2022, "month": "oct", "date": 26, "hours": 12, "utc": true},
              {"year": 2022, "month": "oct", "date": 27, "hours": 0, "utc": true},
              {"year": 2022, "month": "oct", "date": 27, "hours": 12, "utc": true},
              {"year": 2022, "month": "oct", "date": 28, "hours": 0, "utc": true},
              {"year": 2022, "month": "oct", "date": 28, "hours": 12, "utc": true},
              {"year": 2022, "month": "oct", "date": 29, "hours": 0, "utc": true},
              {"year": 2022, "month": "oct", "date": 29, "hours": 12, "utc": true},
              {"year": 2022, "month": "oct", "date": 30, "hours": 0, "utc": true},
              {"year": 2022, "month": "oct", "date": 30, "hours": 12, "utc": true}],
            "labelExpr": "utcFormat(datum.value, '%H') == '00' ? utcFormat(datum.value, '%d') : utcFormat(datum.value, '%H:%M')",
            "labelColor": {"condition": {"test": "utchours(datum.value) == 0", "value": "#131722"}, "value": "#50535e"},
            "labelPadding": 6, "domain": true, "grid": true,
            "title": "TradingView", "titleX": 20, "titleY": 44, "titleAlign": "left", "titleBaseline": "middle",
            "titleFontSize": 12.5, "titleFontWeight": "normal", "titleColor": "#131722", "titleFont": "Lato"
          }
        }
      },
      "layer": [
        {
          "data": {"values": [{"start": "2022-10-24 08:00", "end": "2022-10-31 00:00", "top": 80, "bottom": 20}],
            "format": {"parse": {"start": "utc:'%Y-%m-%d %H:%M'", "end": "utc:'%Y-%m-%d %H:%M'"}}},
          "mark": {"type": "rect", "clip": true, "color": "#9c4fa8", "opacity": 0.12},
          "encoding": {
            "x": {"field": "start", "type": "temporal"}, "x2": {"field": "end"},
            "y": {"field": "top", "type": "quantitative"}, "y2": {"field": "bottom"}
          }
        },
        {
          "data": {"values": [
            {"start": "2022-10-24 08:00", "end": "2022-10-31 00:00", "level": 80},
            {"start": "2022-10-24 08:00", "end": "2022-10-31 00:00", "level": 20}],
            "format": {"parse": {"start": "utc:'%Y-%m-%d %H:%M'", "end": "utc:'%Y-%m-%d %H:%M'"}}},
          "mark": {"type": "rule", "clip": true, "color": "#787b86", "strokeDash": [5, 4], "strokeWidth": 1},
          "encoding": {
            "x": {"field": "start", "type": "temporal"}, "x2": {"field": "end"},
            "y": {"field": "level", "type": "quantitative"}
          }
        },
        {
          "mark": {"type": "line", "clip": true, "color": "#5fe85f", "strokeWidth": 1.2},
          "encoding": {
            "y": {
              "field": "k", "type": "quantitative",
              "scale": {"domain": [-5.08, 111.68], "nice": false, "zero": false},
              "axis": {"orient": "right", "values": [0, 20, 40, 60, 80, 100], "format": ".7f", "grid": true, "labelPadding": 8, "title": null}
            }
          }
        },
        {
          "mark": {"type": "line", "clip": true, "color": "#f8a05a", "strokeWidth": 1.2},
          "encoding": {"y": {"field": "d", "type": "quantitative"}}
        },
        {
          "data": {"values": [{"time": "2022-10-24 09:34", "s": 104.06, "label": "Stochastic Oscillator (14, 3, 80, 20)"}],
            "format": {"parse": {"time": "utc:'%Y-%m-%d %H:%M'"}}},
          "mark": {"type": "text", "align": "left", "fontSize": 12, "color": "#131722"},
          "encoding": {"y": {"field": "s", "type": "quantitative"}, "text": {"field": "label"}}
        },
        {
          "data": {"values": [
            {"time": "2022-10-30 06:11", "s": 91.37, "label": "Overbought Region"},
            {"time": "2022-10-30 01:04", "s": 9.64, "label": "Oversold Region"}],
            "format": {"parse": {"time": "utc:'%Y-%m-%d %H:%M'"}}},
          "mark": {"type": "text", "align": "center", "fontSize": 13, "color": "#131722"},
          "encoding": {"y": {"field": "s", "type": "quantitative"}, "text": {"field": "label"}}
        }
      ]
    }
  ]
}
